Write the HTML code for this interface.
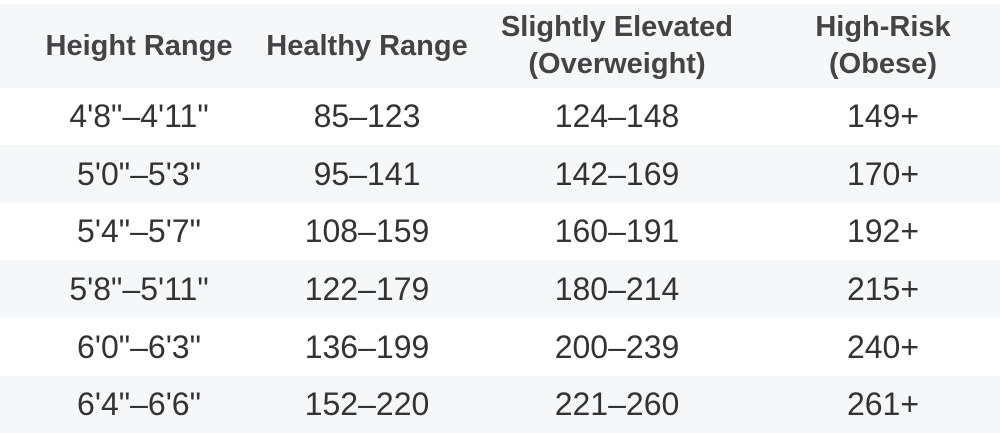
<!DOCTYPE html>
<html><head><style>
body{margin:0;width:1000px;height:433px;background:#fff;font-family:"Liberation Sans",Arial,sans-serif;overflow:hidden}
.r{position:absolute;left:0;width:1000px;}
.g{background:#f6f7f8}
.c{position:absolute;top:0;height:100%;display:flex;align-items:center;justify-content:center;text-align:center;color:#333;font-size:32px;white-space:nowrap}
.h .c{font-weight:bold;font-size:29px;color:#444;line-height:37px}
</style></head><body>
<div class="r g h" style="top:4px;height:84px">
<div class="c" style="left:39px;width:200px">Height Range</div>
<div class="c" style="left:267px;width:200px">Healthy Range</div>
<div class="c" style="left:477px;width:280px">Slightly Elevated<br>(Overweight)</div>
<div class="c" style="left:783px;width:200px">High-Risk<br>(Obese)</div>
</div>
<div class="r" style="top:88px;height:57px">
<div class="c" style="left:39px;width:200px">4'8"–4'11"</div><div class="c" style="left:267px;width:200px">85–123</div><div class="c" style="left:517px;width:200px">124–148</div><div class="c" style="left:783px;width:200px">149+</div></div>
<div class="r g" style="top:145px;height:58px">
<div class="c" style="left:39px;width:200px">5'0"–5'3"</div><div class="c" style="left:267px;width:200px">95–141</div><div class="c" style="left:517px;width:200px">142–169</div><div class="c" style="left:783px;width:200px">170+</div></div>
<div class="r" style="top:203px;height:57px">
<div class="c" style="left:39px;width:200px">5'4"–5'7"</div><div class="c" style="left:267px;width:200px">108–159</div><div class="c" style="left:517px;width:200px">160–191</div><div class="c" style="left:783px;width:200px">192+</div></div>
<div class="r g" style="top:260px;height:58px">
<div class="c" style="left:39px;width:200px">5'8"–5'11"</div><div class="c" style="left:267px;width:200px">122–179</div><div class="c" style="left:517px;width:200px">180–214</div><div class="c" style="left:783px;width:200px">215+</div></div>
<div class="r" style="top:318px;height:58px">
<div class="c" style="left:39px;width:200px">6'0"–6'3"</div><div class="c" style="left:267px;width:200px">136–199</div><div class="c" style="left:517px;width:200px">200–239</div><div class="c" style="left:783px;width:200px">240+</div></div>
<div class="r g" style="top:376px;height:57px">
<div class="c" style="left:39px;width:200px">6'4"–6'6"</div><div class="c" style="left:267px;width:200px">152–220</div><div class="c" style="left:517px;width:200px">221–260</div><div class="c" style="left:783px;width:200px">261+</div></div>
</body></html>
